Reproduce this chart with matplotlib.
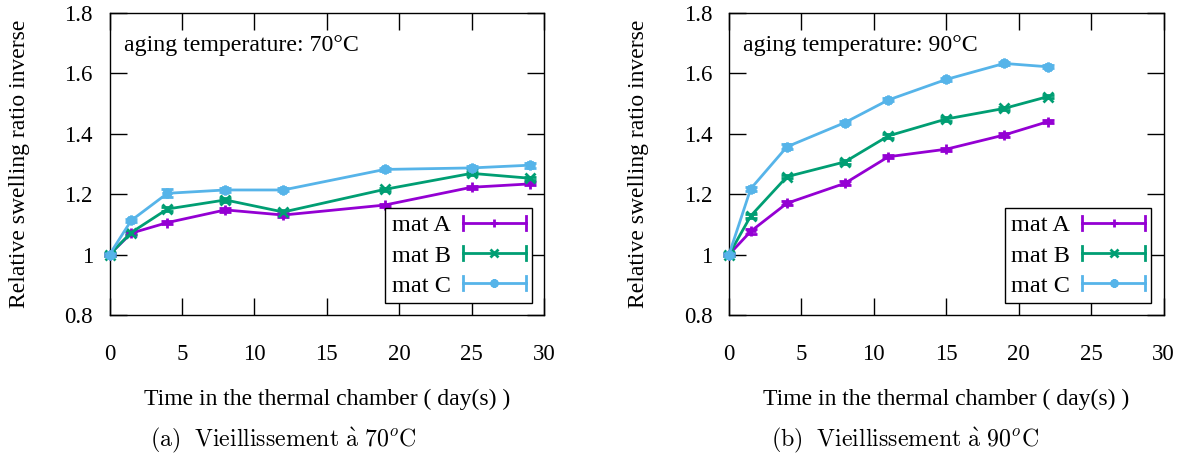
import matplotlib
matplotlib.use("Agg")
import matplotlib.pyplot as plt
from matplotlib.lines import Line2D
from matplotlib.legend_handler import HandlerBase
from matplotlib.ticker import FuncFormatter, MultipleLocator

plt.rcParams['font.family'] = ['Liberation Serif', 'DejaVu Serif']
plt.rcParams['mathtext.fontset'] = 'cm'

# ---------------- data ----------------
days_70 = [0, 1.5, 4, 8, 12, 19, 25, 29]
matA_70 = [1.000, 1.071, 1.106, 1.148, 1.131, 1.164, 1.223, 1.234]
matB_70 = [1.000, 1.073, 1.151, 1.181, 1.141, 1.216, 1.269, 1.253]
matC_70 = [1.000, 1.113, 1.203, 1.214, 1.214, 1.282, 1.287, 1.296]
errA_70 = [0.004, 0.006, 0.005, 0.006, 0.006, 0.005, 0.005, 0.005]
errB_70 = [0.004, 0.006, 0.005, 0.006, 0.006, 0.005, 0.005, 0.005]
errC_70 = [0.004, 0.006, 0.013, 0.006, 0.005, 0.005, 0.005, 0.008]

days_90 = [0, 1.5, 4, 8, 11, 15, 19, 22]
matA_90 = [1.000, 1.077, 1.170, 1.236, 1.324, 1.349, 1.396, 1.440]
matB_90 = [1.000, 1.128, 1.258, 1.307, 1.393, 1.449, 1.484, 1.523]
matC_90 = [1.000, 1.218, 1.357, 1.437, 1.512, 1.580, 1.633, 1.622]
errA_90 = [0.004, 0.008, 0.006, 0.007, 0.005, 0.005, 0.005, 0.005]
errB_90 = [0.004, 0.006, 0.005, 0.006, 0.006, 0.005, 0.005, 0.005]
errC_90 = [0.004, 0.006, 0.008, 0.006, 0.005, 0.005, 0.005, 0.005]

series_names = ['mat A', 'mat B', 'mat C']
temps = ['70', '90']
captions = [r'$\mathrm{(a)\ \ Vieillissement\ }\grave{\mathrm{a}}\mathrm{\ 70^{\it o}C}$',
            r'$\mathrm{(b)\ \ Vieillissement\ }\grave{\mathrm{a}}\mathrm{\ 90^{\it o}C}$']
xlabel = 'Time in the thermal chamber ( day(s) )'
ylabel = 'Relative swelling ratio inverse'

colors = ['#9400D3', '#009E73', '#56B4E9']
markers = ['+', 'x', (8, 2, 0)]


class HandlerErrLine(HandlerBase):
    def create_artists(self, legend, orig_handle, xdescent, ydescent,
                       width, height, fontsize, trans):
        c = orig_handle.get_color()
        y = height / 2 - ydescent
        x0, x1 = -xdescent, -xdescent + width
        h = height * 0.42
        line = Line2D([x0, x1], [y, y], color=c, lw=2.0)
        mk = Line2D([(x0 + x1) / 2], [y], color=c, marker=orig_handle.get_marker(),
                    ms=6, mew=2.0, linestyle='none')
        c0 = Line2D([x0, x0], [y - h, y + h], color=c, lw=2.0)
        c1 = Line2D([x1, x1], [y - h, y + h], color=c, lw=2.0)
        arts = [line, mk, c0, c1]
        for a in arts:
            a.set_transform(trans)
        return arts


fig = plt.figure(figsize=(11.82, 4.62), dpi=100)
W, H = 1182, 462
ax_lefts = [109.5, 729]
ax_w = 434.5
ax_top, ax_bot = 13, 315
cap_cx = [283, 905]

data = [
    (days_70, [matA_70, matB_70, matC_70], [errA_70, errB_70, errC_70]),
    (days_90, [matA_90, matB_90, matC_90], [errA_90, errB_90, errC_90]),
]

for i, (days, ys, errs) in enumerate(data):
    ax = fig.add_axes([ax_lefts[i] / W, 1 - ax_bot / H, ax_w / W, (ax_bot - ax_top) / H])
    handles = []
    for name, yv, ev, c, m in zip(series_names, ys, errs, colors, markers):
        ax.errorbar(days, yv, yerr=ev, color=c, lw=2.0, marker=m, ms=7, mew=2.0,
                    capsize=4, capthick=2.0, elinewidth=2.0, clip_on=False, zorder=3)
        handles.append(Line2D([], [], color=c, marker=m, label=name))
    ax.set_xlim(0, 30)
    ax.set_ylim(0.8, 1.8)
    ax.xaxis.set_major_locator(MultipleLocator(5))
    ax.yaxis.set_major_locator(MultipleLocator(0.2))
    ax.yaxis.set_major_formatter(FuncFormatter(lambda v, p: f'{v:g}'))
    ax.tick_params(direction='in', length=12, width=1, top=True, right=True,
                   labelsize=16.5)
    ax.tick_params(axis='x', pad=21)
    ax.tick_params(axis='y', pad=12)
    for s in ax.spines.values():
        s.set_linewidth(1.0)
    ax.text(0.033, 0.894, f'aging temperature: {temps[i]}°C', transform=ax.transAxes,
            fontsize=17.2, va='center', ha='left')
    ax.set_ylabel(ylabel, fontsize=17)
    ax.yaxis.set_label_coords(-0.183, 0.5)
    ax.set_xlabel(xlabel, fontsize=17)
    ax.xaxis.set_label_coords(0.5, -0.243)
    leg = ax.legend(handles=handles, loc='lower right', bbox_to_anchor=(0.972, 0.041),
                    handler_map={Line2D: HandlerErrLine()}, markerfirst=False,
                    fontsize=17.5, frameon=True, fancybox=False, framealpha=1,
                    edgecolor='black', borderpad=0.25, labelspacing=0.33,
                    handlelength=2.6, handletextpad=0.5, borderaxespad=0)
    leg.get_frame().set_linewidth(1.0)
    fig.text(cap_cx[i] / W, 1 - 440 / H, captions[i], ha='center', va='center', fontsize=17.2)

fig.savefig('out.png', dpi=100)
